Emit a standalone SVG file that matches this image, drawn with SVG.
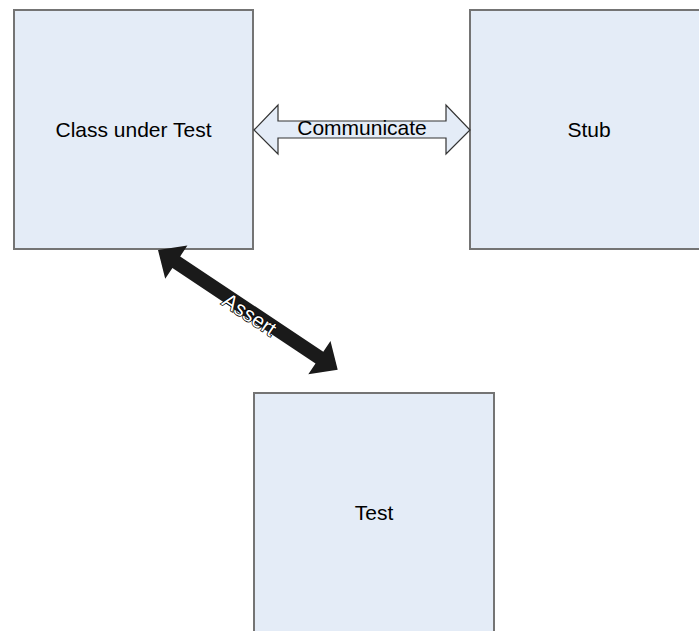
<svg xmlns="http://www.w3.org/2000/svg" width="699" height="631" viewBox="0 0 699 631">
<style>
.box{fill:#e4ecf7;stroke:#747474;stroke-width:2}
.lbl{font-family:"Liberation Sans",Arial,sans-serif;font-size:21px;fill:#000;text-anchor:middle}
.comm{fill:#e4ecf7;stroke:#333;stroke-width:1.2}
.assert{fill:#1a1a1a;stroke:none}
.alb{font-family:"Liberation Sans",Arial,sans-serif;font-size:21px;fill:#fff;stroke:#000;stroke-width:1.5;paint-order:stroke;text-anchor:middle}
</style>
<rect width="699" height="631" fill="#fff"/>
<g id="class-under-test">
<rect class="box" x="14" y="10" width="239" height="239"/>
<text class="lbl" x="133.5" y="137">Class under Test</text>
</g>
<g id="stub">
<rect class="box" x="470" y="10" width="239" height="239"/>
<text class="lbl" x="589" y="137">Stub</text>
</g>
<g id="test">
<rect class="box" x="254" y="393" width="240" height="245"/>
<text class="lbl" x="374" y="520">Test</text>
</g>
<g id="connectors">
<g id="communicate">
<polygon class="comm" points="254,130 278,105 278,121 446,121 446,105 470,130 446,154 446,138 278,138 278,154"/>
<text class="lbl" x="362" y="135">Communicate</text>
</g>
<g id="assert" transform="translate(158,250) rotate(33.7)">
<polygon class="assert" points="0,0 22,-20 22,-7 194,-7 194,-20 216,0 194,20 194,7 22,7 22,20"/>
<text class="alb" x="112" y="10">Assert</text>
</g>
</g>
</svg>
